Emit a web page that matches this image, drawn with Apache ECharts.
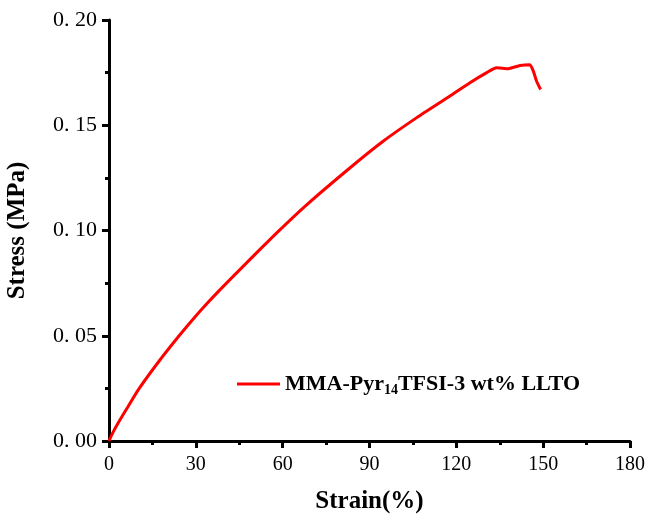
<!DOCTYPE html>
<html>
<head>
<meta charset="utf-8">
<script src="https://cdn.jsdelivr.net/npm/echarts@6/dist/echarts.min.js"></script>
<style>html,body{margin:0;padding:0;background:#fff;}#c{width:649px;height:514px;}</style>
</head>
<body>
<div id="c"></div>
<script>
const strain = [0, 1.2, 3.1, 6.6, 10.1, 15.9, 21.7, 27.4, 32.9, 41.1, 52.6, 58.4, 67.6, 83.2, 94.7, 106.2, 117.7, 124.7, 130.5, 133.9, 137.9, 142.0, 145.4, 146.6, 147.7, 149.1];
const stress = [0, 0.0036, 0.0084, 0.0164, 0.0243, 0.0354, 0.0457, 0.0552, 0.0639, 0.0757, 0.0916, 0.0995, 0.1114, 0.1297, 0.1424, 0.1535, 0.1638, 0.1702, 0.1750, 0.1773, 0.1769, 0.1784, 0.1788, 0.1757, 0.1710, 0.1670];
const seriesName = 'MMA-Pyr14TFSI-3 wt% LLTO';
const xTitle = 'Strain(%)';
const yTitle = 'Stress (MPa)';

const chart = echarts.init(document.getElementById('c'), null, {renderer: 'canvas'});
const serif = '"Liberation Serif", "Times New Roman", serif';
chart.setOption({
  animation: false,
  backgroundColor: '#fff',
  grid: {left: 109, right: 19, top: 20, bottom: 73, containLabel: false, outerBoundsMode: 'none'},
  legend: {
    left: 232, top: 368,
    icon: 'rect', itemWidth: 43, itemHeight: 3, itemGap: 5,
    data: [seriesName],
    formatter: () => '{a|MMA-Pyr}{s|14}{a|TFSI-3 wt% LLTO}',
    textStyle: {
      rich: {
        a: {fontFamily: serif, fontWeight: 'bold', fontSize: 22, color: '#000'},
        s: {fontFamily: serif, fontWeight: 'bold', fontSize: 14, color: '#000', padding: [12, 0, 0, 0]}
      }
    }
  },
  xAxis: {
    type: 'value', min: 0, max: 180, interval: 30,
    name: xTitle, nameLocation: 'middle', nameGap: 48,
    nameTextStyle: {fontFamily: serif, fontWeight: 'bold', fontSize: 25, color: '#000'},
    axisLine: {show: true, lineStyle: {color: '#000', width: 3}},
    axisTick: {show: true, inside: false, length: 7, lineStyle: {color: '#000', width: 3}},
    minorTick: {show: true, splitNumber: 2, length: 4, lineStyle: {color: '#000', width: 3}},
    splitLine: {show: false},
    axisLabel: {fontFamily: serif, fontSize: 20, color: '#000', margin: 14}
  },
  yAxis: {
    type: 'value', min: 0, max: 0.2, interval: 0.05,
    name: yTitle, nameLocation: 'middle', nameGap: 79,
    nameTextStyle: {fontFamily: serif, fontWeight: 'bold', fontSize: 25, color: '#000'},
    axisLine: {show: true, lineStyle: {color: '#000', width: 3}},
    axisTick: {show: true, inside: false, length: 7, lineStyle: {color: '#000', width: 3}},
    minorTick: {show: true, splitNumber: 2, length: 4, lineStyle: {color: '#000', width: 3}},
    splitLine: {show: false},
    axisLabel: {fontFamily: serif, fontSize: 22, color: '#000', margin: 12,
      formatter: v => v.toFixed(2).replace('.', '. ')}
  },
  series: [{
    name: seriesName, type: 'line', showSymbol: false, symbol: 'none', smooth: 0.2,
    data: strain.map((x, i) => [x, stress[i]]),
    lineStyle: {color: '#ff0000', width: 3}, itemStyle: {color: '#ff0000'}
  }]
});
</script>
</body>
</html>
